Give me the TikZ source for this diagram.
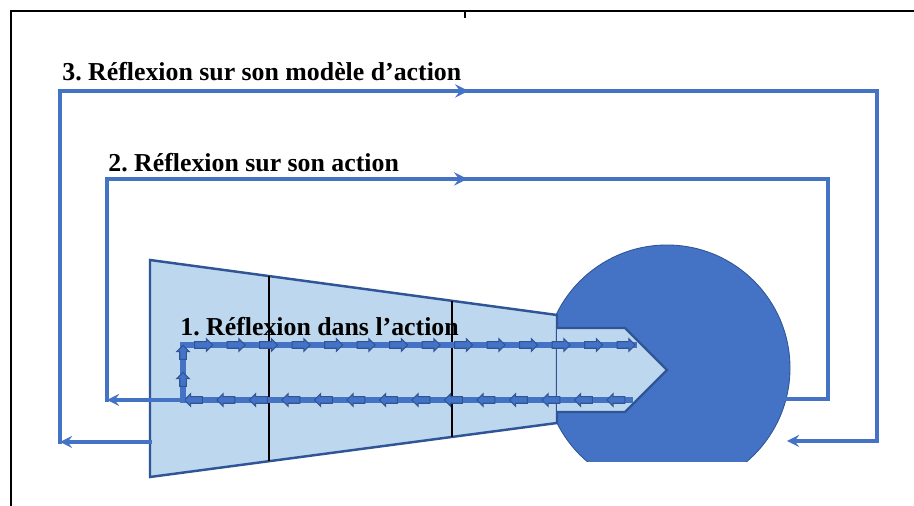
\documentclass[tikz,border=0pt]{standalone}
\usepackage{fontspec}
\setmainfont{Liberation Serif}
\frenchspacing
\usetikzlibrary{arrows,decorations.markings}
\usetikzlibrary{shapes.arrows}
\definecolor{bleu}{RGB}{68,114,196}
\definecolor{bleuclair}{RGB}{189,215,238}
\definecolor{bleufonce}{RGB}{47,85,151}

\begin{document}
\begin{tikzpicture}
    [x=0.02cm,y=-0.02cm,
     decoration={markings,mark=at position 0.5 with {\arrow[scale=1.1]{stealth}};},
     boucle/.style={draw=bleu,line width=2pt,line cap=rect},
     pointe/.style={-{stealth[scale=1.4]}},
     titre/.style={anchor=base west,inner sep=0pt,font=\fontsize{14.7}{17}\selectfont\bfseries},
     flecheD/.style={single arrow,draw=bleufonce,fill=bleu,line width=0.6pt,inner sep=0.055cm,
       minimum height=0.36cm,single arrow head extend=0.06cm}]

    \useasboundingbox (0,0) rectangle (914,506);

% cadre
\draw[line width=1.2pt] (914,11) -- (11,11) -- (11,506);
\draw[line width=0.6pt] (465,11) -- (465,18);

% tete
\begin{scope}
\clip (500,200) rectangle (820,462);
\draw[fill=bleu,draw=bleufonce,line width=0.5pt] (667,368) circle (123);
\end{scope}

% corps
\filldraw[fill=bleuclair,draw=bleufonce,line width=1.4pt] (150,260) -- (557,315) -- (557,423) -- (150,477) -- cycle;
\filldraw[fill=bleuclair,draw=bleufonce,line width=1.4pt] (557,328) -- (625,328) -- (667,370) -- (625,412) -- (557,412);
\draw[line width=0.7pt] (269,276) -- (269,461);
\draw[line width=0.7pt] (452,301) -- (452,437);

% boucle 1
\coordinate (hg) at (183,345);
\coordinate (hd) at (637,345);
\coordinate (bd) at (633,400);
\coordinate (bg) at (183,400);
\draw[bleu,line width=3.2pt] (bd) -- (bg) -- (hg) -- (hd);
\foreach \i in {0,...,13}
  \node[flecheD] (fh\i) at ({202+32.5*\i},345) {};
\foreach \i in {0,...,13}
  \node[flecheD,shape border rotate=180] (fb\i) at ({195+32.5*\i},400) {};
\node[flecheD,shape border rotate=90,minimum height=0.28cm] (fv1) at (183,354) {};
\node[flecheD,shape border rotate=90,minimum height=0.28cm] (fv2) at (183,381) {};

% boucle 2
\coordinate (a2) at (107,400);
\coordinate (h2g) at (107,179);
\coordinate (h2d) at (828,179);
\coordinate (b2d) at (828,399);
\coordinate (c2) at (786,399);
\draw[boucle,pointe] (bg) -- (a2);
\draw[boucle] (a2) -- (h2g);
\draw[boucle,postaction={decorate}] (h2g) -- (h2d);
\draw[boucle] (h2d) -- (b2d) -- (c2);

% boucle 3
\coordinate (d3) at (150,442);
\coordinate (a3) at (60,442);
\coordinate (h3g) at (60,91);
\coordinate (h3d) at (877,91);
\coordinate (b3d) at (877,441);
\coordinate (c3) at (787,441);
\draw[boucle,pointe] (d3) -- (a3);
\draw[boucle] (a3) -- (h3g);
\draw[boucle,postaction={decorate}] (h3g) -- (h3d);
\draw[boucle,pointe] (h3d) -- (b3d) -- (c3);

\node[titre] (t3) at (62,81) {3. Réflexion sur son modèle d’action};
\node[titre] (t2) at (108,172) {2. Réflexion sur son action};
\node[titre] (t1) at (180,336) {1. Réflexion dans l’action};

  \end{tikzpicture}
\end{document}
